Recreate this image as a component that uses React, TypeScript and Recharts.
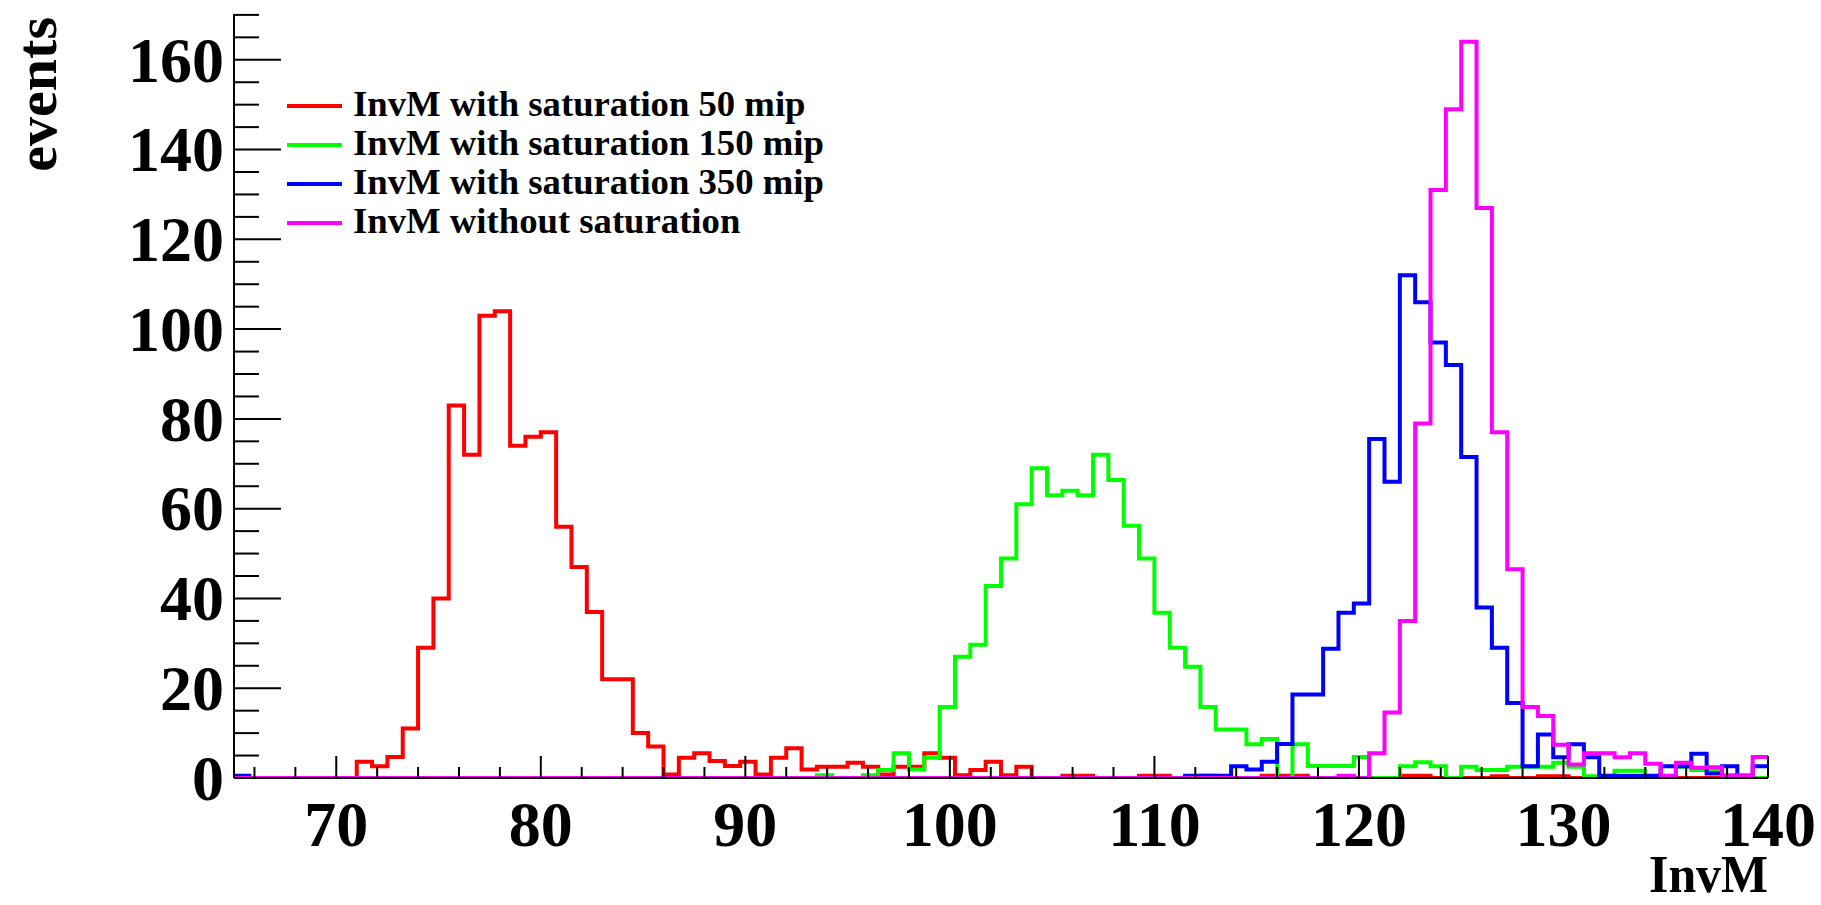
import React from 'react';
import { LineChart, Line, XAxis, YAxis, Legend } from 'recharts';

const W = 1821;
const H = 905;
const FONT = '"Liberation Serif", "Times New Roman", Times, serif';

// 100 bins of 0.75 from 65 to 140
const BIN_LOW = 65;
const BIN_WIDTH = 0.75;

// bin contents
const sat50 = [
  0, 0, 0, 0, 0, 0, 0, 0,
  3.6, 2.6, 4.7, 11, 29, 40, 83, 72,
  103, 104, 74, 76, 77, 56, 47, 37,
  22, 22, 10, 7, 0.8, 4.5, 5.5, 3.8,
  2.7, 3.6, 0.8, 4.5, 6.6, 1.9, 2.5, 2.5,
  3.4, 2.5, 0.8, 2.5, 2.5, 5.5, 4.5, 0.6,
  1.8, 3.6, 0.6, 2.5, 0, 0, 0.5, 0.5,
  0, 0, 0, 0.5, 0.5, 0, 0, 0.5,
  0, 0, 0, 0.5, 0.5, 0.5, 0, 0,
  0, 0, 0, 0, 0.5, 0.5, 0, 0,
  0, 0, 0.4, 0, 0, 0.4, 0.4, 0,
  0, 0, 0, 0, 0, 0, 0, 0,
  0, 0, 0, 0,
];

const sat150 = [
  0, 0, 0, 0, 0, 0, 0, 0,
  0, 0, 0, 0, 0, 0, 0, 0,
  0, 0, 0, 0, 0, 0, 0, 0,
  0, 0, 0, 0, 0, 0, 0, 0,
  0, 0, 0, 0, 0, 0, 0.6, 0,
  0, 0.6, 1.8, 5.5, 1.9, 4.5, 15.8, 27,
  29.7, 42.8, 48.9, 61, 69, 63, 64, 63,
  72, 66.4, 56.2, 48.9, 36.8, 29, 24.8, 15.8,
  10.8, 10.8, 7.5, 8.7, 0, 7.5, 2.7, 2.7,
  2.7, 4.7, 0, 0, 2.6, 3.5, 2.6, 0,
  2.5, 1.8, 1.8, 2.5, 2.5, 2.5, 3.4, 2.5,
  0.4, 0, 1.6, 1.6, 0, 0, 2.5, 1.8,
  1.8, 0, 0, 0,
];

const sat350 = [
  0.5, 0, 0, 0, 0, 0, 0, 0,
  0, 0, 0, 0, 0, 0, 0, 0,
  0, 0, 0, 0, 0, 0, 0, 0,
  0, 0, 0, 0, 0, 0, 0, 0,
  0, 0, 0, 0, 0, 0, 0, 0,
  0, 0, 0, 0, 0, 0, 0, 0,
  0, 0, 0, 0, 0, 0, 0, 0,
  0, 0, 0, 0, 0, 0, 0.5, 0.5,
  0.5, 2.6, 1.9, 3.6, 7.6, 18.6, 18.6, 28.8,
  36.8, 38.9, 75.5, 66, 112, 106, 97, 92,
  71.5, 38, 29, 16.7, 2.6, 9.7, 4.6, 7.5,
  4.6, 0.5, 0.5, 0.5, 0.5, 2.6, 2.6, 5.4,
  1, 2.6, 0.3, 2.6,
];

const noSat = [
  0, 0, 0, 0, 0, 0, 0, 0,
  0, 0, 0, 0, 0, 0, 0, 0,
  0, 0, 0, 0, 0, 0, 0, 0,
  0, 0, 0, 0, 0, 0, 0, 0,
  0, 0, 0, 0, 0, 0, 0, 0,
  0, 0, 0, 0, 0, 0, 0, 0,
  0, 0, 0, 0, 0, 0, 0, 0,
  0, 0, 0, 0, 0, 0, 0, 0,
  0, 0, 0, 0, 0, 0, 0, 0,
  0.5, 0, 5.5, 14.6, 35, 79, 131, 149,
  164, 127, 77, 46.5, 15.8, 13.8, 7.4, 3,
  5.5, 5.5, 4.6, 5.5, 3.2, 0.5, 3.4, 2.3,
  2.4, 0.6, 0.6, 4.7,
];

const SERIES = [
  { key: 'sat50', name: 'InvM with saturation 50 mip', color: '#ff0000', values: sat50 },
  { key: 'sat150', name: 'InvM with saturation 150 mip', color: '#00ff00', values: sat150 },
  { key: 'sat350', name: 'InvM with saturation 350 mip', color: '#0000ff', values: sat350 },
  { key: 'noSat', name: 'InvM without saturation', color: '#ff00ff', values: noSat },
];

const X_TICKS = [66, 68, 70, 72, 74, 76, 78, 80, 82, 84, 86, 88, 90, 92, 94, 96, 98, 100,
  102, 104, 106, 108, 110, 112, 114, 116, 118, 120, 122, 124, 126, 128, 130, 132, 134, 136, 138, 140];
const Y_TICKS = [0, 5, 10, 15, 20, 25, 30, 35, 40, 45, 50, 55, 60, 65, 70, 75, 80, 85,
  90, 95, 100, 105, 110, 115, 120, 125, 130, 135, 140, 145, 150, 155, 160, 165, 170];
const X_DOMAIN = [65, 140];
const Y_DOMAIN = [0, 170.2];

// one point per bin edge, last edge repeats last bin (stepAfter)
const data = Array.from({ length: sat50.length + 1 }, (_, i) => {
  const row: any = { x: BIN_LOW + i * BIN_WIDTH };
  SERIES.forEach(s => { row[s.key] = s.values[Math.min(i, s.values.length - 1)]; });
  return row;
});

const TICK_FS = 64;
const TITLE_FS = 53;
const LEG_FS = 36.7;

const BottomTick = ({ x, y, payload }: any) => {
  const major = payload.value % 10 === 0;
  return (
    <g>
      <line x1={x} x2={x} y1={y} y2={y - (major ? 22 : 11)} stroke="#000" strokeWidth={2} />
      {major && (
        <text x={x} y={y + 68} textAnchor="middle" fontFamily={FONT} fontWeight="bold" fontSize={TICK_FS} fill="#000">
          {payload.value}
        </text>
      )}
    </g>
  );
};

const TopTick = ({ x, y, payload }: any) => {
  const major = payload.value % 10 === 0;
  return <line x1={x} x2={x} y1={y} y2={y + (major ? 24 : 12)} stroke="#000" strokeWidth={2} />;
};

const LeftTick = ({ x, y, payload }: any) => {
  const major = payload.value % 20 === 0;
  return (
    <g>
      <line x1={x} x2={x + (major ? 47 : 25)} y1={y} y2={y} stroke="#000" strokeWidth={2} />
      {major && (
        <text x={x - 10} y={y + TICK_FS * 0.34} textAnchor="end" fontFamily={FONT} fontWeight="bold" fontSize={TICK_FS} fill="#000">
          {payload.value}
        </text>
      )}
    </g>
  );
};

const RightTick = ({ x, y, payload }: any) => {
  const major = payload.value % 20 === 0;
  return <line x1={x} x2={x - (major ? 47 : 24)} y1={y} y2={y} stroke="#000" strokeWidth={2} />;
};

// legend rows follow the SERIES order (red, green, blue, magenta)
const LegendBox = () => (
  <svg width={620} height={170}>
    {SERIES.map((s, i) => (
      <g key={s.key} transform={`translate(0, ${26 + i * 39})`}>
        <line x1={7} x2={62} y1={0} y2={0} stroke={s.color} strokeWidth={4} />
        <text x={73} y={10} fontFamily={FONT} fontWeight="bold" fontSize={LEG_FS} fill="#000">{s.name}</text>
      </g>
    ))}
  </svg>
);

const frame = { stroke: '#000', strokeWidth: 2 };

export default function App() {
  return (
    <div style={{ position: 'absolute', left: 0, top: 0, width: W, height: H, background: '#fff' }}>
      <LineChart width={W} height={H} data={data} margin={{ top: 14, right: 53, bottom: 0, left: 0 }}>
        <XAxis
          type="number" dataKey="x" domain={X_DOMAIN} ticks={X_TICKS} interval={0} allowDataOverflow
          height={127} tickSize={0} tickMargin={0} tickLine={false} axisLine={frame} tick={<BottomTick />}
          label={(props: any) => {
            const vb = props.viewBox;
            return (
              <text transform={`translate(${vb.x + vb.width}, ${vb.y + vb.height - 13}) scale(0.94, 1)`}
                textAnchor="end" fontFamily={FONT} fontWeight="bold" fontSize={TITLE_FS} fill="#000">InvM</text>
            );
          }}
        />
        <XAxis
          xAxisId="top" orientation="top" type="number" dataKey="x" domain={X_DOMAIN} ticks={X_TICKS}
          interval={0} allowDataOverflow height={0} tickSize={0} tickMargin={0} tickLine={false}
          axisLine={frame} tick={<TopTick />}
        />
        <YAxis
          type="number" domain={Y_DOMAIN} ticks={Y_TICKS} interval={0} allowDataOverflow width={234}
          tickSize={0} tickMargin={0} tickLine={false} axisLine={frame} tick={<LeftTick />}
          label={(props: any) => {
            const vb = props.viewBox;
            return (
              <text transform={`translate(56, ${vb.y + 3}) rotate(-90)`} textAnchor="end"
                fontFamily={FONT} fontWeight="bold" fontSize={58} fill="#000">events</text>
            );
          }}
        />
        <YAxis
          yAxisId="right" orientation="right" type="number" domain={Y_DOMAIN} ticks={Y_TICKS} interval={0}
          allowDataOverflow width={0} tickSize={0} tickMargin={0} tickLine={false} axisLine={frame}
          tick={<RightTick />}
        />
        <Legend
          layout="vertical" align="center" verticalAlign="middle" content={<LegendBox />}
          wrapperStyle={{ left: 280, top: 80, width: 620, height: 170 }}
        />
        {SERIES.map(s => (
          <Line
            key={s.key} dataKey={s.key} name={s.name} type="stepAfter" stroke={s.color}
            strokeWidth={4} dot={false} activeDot={false} isAnimationActive={false}
            strokeLinejoin="miter" strokeLinecap="square"
          />
        ))}
      </LineChart>
    </div>
  );
}
